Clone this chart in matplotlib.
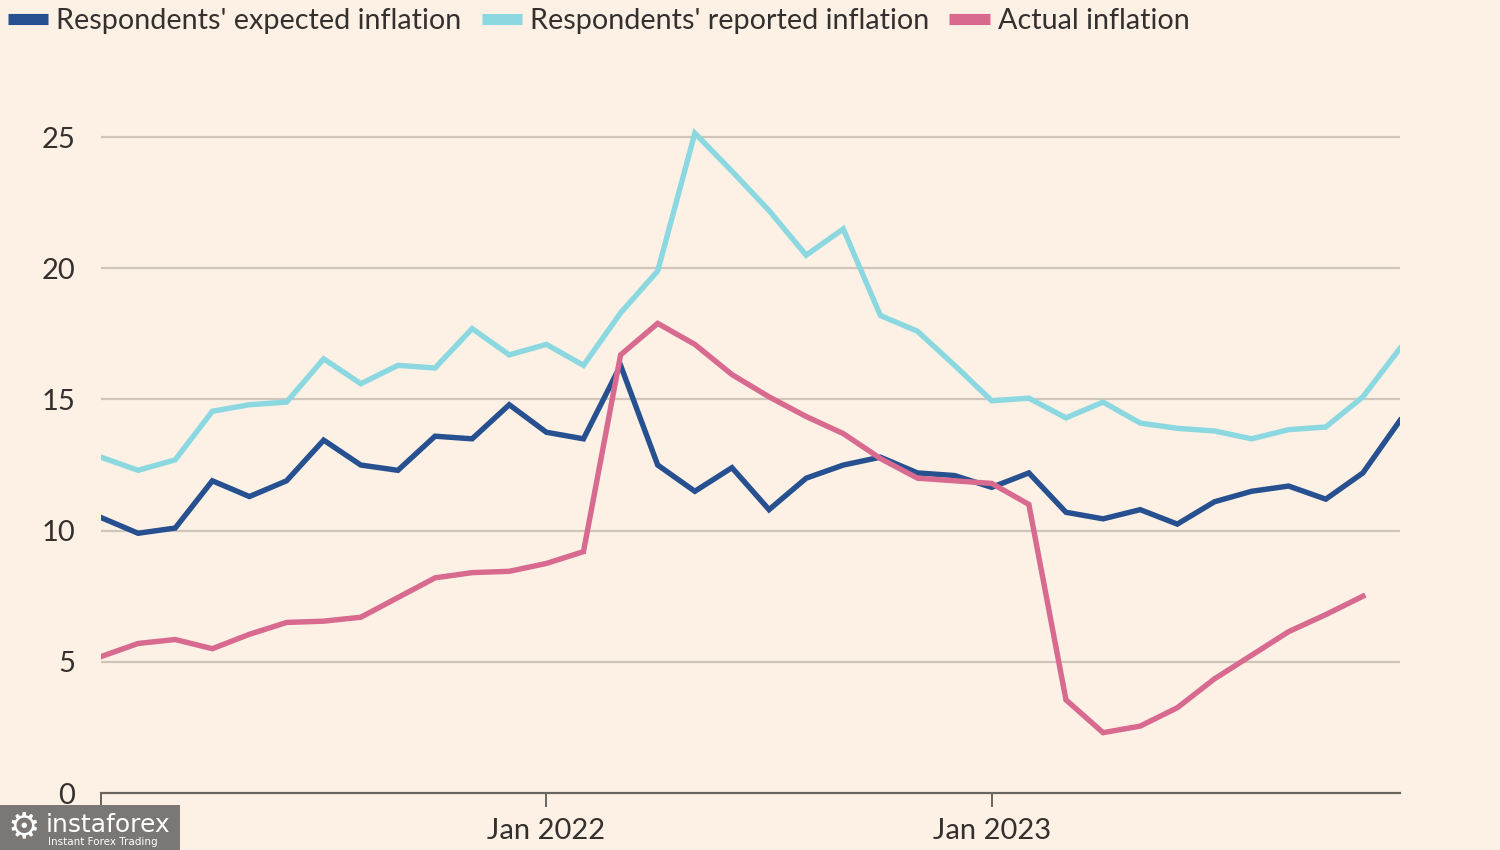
import numpy as np
import matplotlib
matplotlib.use("Agg")
import matplotlib.pyplot as plt
from matplotlib.lines import Line2D
from matplotlib.patches import Rectangle

# monthly readings, Jan 2021 .. Dec 2023
expected = [10.5, 9.9, 10.1, 11.9, 11.3, 11.9, 13.45, 12.5, 12.3, 13.6, 13.5, 14.8,
            13.75, 13.5, 16.3, 12.5, 11.5, 12.4, 10.8, 12.0, 12.5, 12.8, 12.2, 12.1,
            11.65, 12.2, 10.7, 10.45, 10.8, 10.25, 11.1, 11.5, 11.7, 11.2, 12.2, 14.2]
reported = [12.8, 12.3, 12.7, 14.55, 14.8, 14.9, 16.55, 15.6, 16.3, 16.2, 17.7, 16.7,
            17.1, 16.3, 18.3, 19.9, 25.15, 23.7, 22.2, 20.5, 21.5, 18.2, 17.6, 16.3,
            14.95, 15.05, 14.3, 14.9, 14.1, 13.9, 13.8, 13.5, 13.85, 13.95, 15.1, 16.95]
actual = [5.2, 5.7, 5.85, 5.5, 6.05, 6.5, 6.55, 6.7, 7.45, 8.2, 8.4, 8.45,
          8.75, 9.2, 16.7, 17.9, 17.1, 15.95, 15.1, 14.35, 13.7, 12.75, 12.0, 11.9,
          11.8, 11.0, 3.55, 2.3, 2.55, 3.25, 4.35, 5.25, 6.15, 6.8, 7.5]

tick_pos = [0, 12, 24]
tick_labels = ["Jan 2021", "Jan 2022", "Jan 2023"]
y_ticks = [0, 5, 10, 15, 20, 25]

bg = "#fdf1e6"
dark = "#26508f"
light = "#8cd8e1"
pink = "#d86a90"
txt = "#33302e"

plt.rcParams['font.family'] = ['Lato', 'DejaVu Sans']

fig = plt.figure(figsize=(15, 8.5), dpi=100, facecolor=bg)
ax = fig.add_axes([101 / 1500, 57 / 850, 1299 / 1500, (793 - 124) / 850])
ax.set_facecolor(bg)

ax.plot(range(len(expected)), expected, color=dark, lw=3.9, solid_joinstyle='miter', zorder=4)
ax.plot(range(len(reported)), reported, color=light, lw=3.9, solid_joinstyle='miter', zorder=3)
ax.plot(range(len(actual)), actual, color=pink, lw=3.9, solid_joinstyle='miter', zorder=5)

ax.set_xlim(0, 35)
ax.set_ylim(0, 25.5)
ax.set_yticks(y_ticks)
ax.set_yticklabels([str(v) for v in y_ticks])
ax.set_xticks(tick_pos)
ax.set_xticklabels(tick_labels)
for v in y_ticks[1:]:
    ax.axhline(v, color="#cfc5bb", lw=1.6, zorder=1)

for s in ["top", "right", "left"]:
    ax.spines[s].set_visible(False)
ax.spines["bottom"].set_color("#6b6560")
ax.spines["bottom"].set_linewidth(1.6)
ax.tick_params(axis='y', length=0, pad=18.5, labelsize=21, labelcolor=txt)
ax.tick_params(axis='x', length=10, width=1.4, color="#6b6560", pad=8, labelsize=21, labelcolor=txt)

handles = [Line2D([], [], color=dark, lw=8, solid_capstyle='butt'),
           Line2D([], [], color=light, lw=8, solid_capstyle='butt'),
           Line2D([], [], color=pink, lw=8, solid_capstyle='butt')]
labels = ["Respondents' expected inflation", "Respondents' reported inflation", "Actual inflation"]
fig.legend(handles, labels, loc='upper left', bbox_to_anchor=(8 / 1500, 1 - 8 / 850), ncol=3,
           frameon=False, borderaxespad=0, borderpad=0,
           fontsize=20.7, handlelength=1.4, handletextpad=0.28, columnspacing=0.7, labelcolor=txt)

# watermark box bottom-left
fig.patches.append(Rectangle((0, 0), 180 / 1500, 45 / 850, transform=fig.transFigure,
                             facecolor="#7a7775", edgecolor="none", zorder=10))
fig.text(46 / 1500, 25 / 850, "instaforex", color="white", fontsize=18, zorder=11,
         va='center', ha='left', family=['DejaVu Sans'])
fig.text(48 / 1500, 8 / 850, "Instant Forex Trading", color="white", fontsize=7.5, zorder=11,
         va='center', ha='left', family=['DejaVu Sans'])
fig.text(24 / 1500, 23 / 850, "\u2699", color="white", fontsize=26, zorder=11,
         va='center', ha='center', family=['DejaVu Sans'])

fig.savefig("out.png", dpi=100, facecolor=bg)
